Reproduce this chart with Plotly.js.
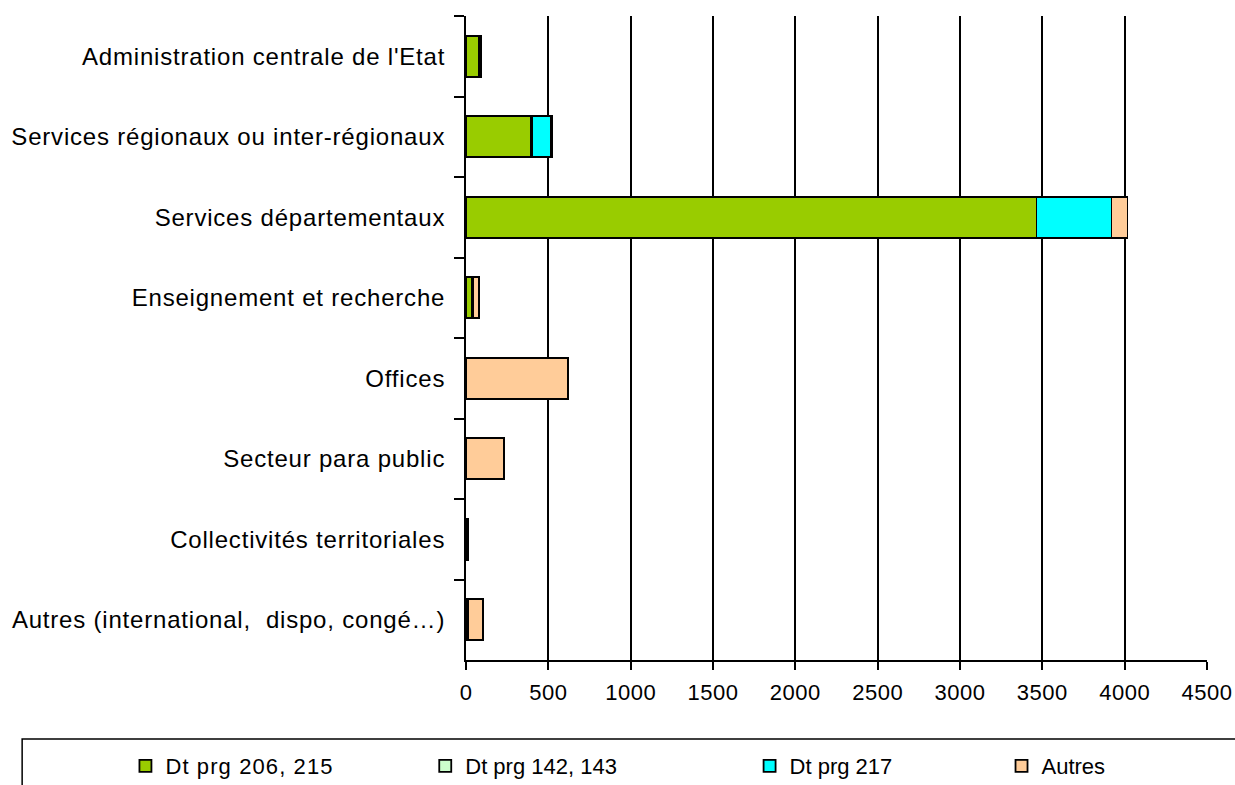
<!DOCTYPE html>
<html>
<head>
<meta charset="utf-8">
<script src="https://cdn.plot.ly/plotly-3.0.1.min.js"></script>
<style>
html,body{margin:0;padding:0;background:#fff;}
#chart{width:1235px;height:785px;}
.ytick text{letter-spacing:0.8px;}
.xtick text{letter-spacing:0.5px;}
.legendtext{letter-spacing:1.1px;}
</style>
</head>
<body>
<div id="chart"></div>
<script>
const categories = ["Administration centrale de l'Etat", "Services régionaux ou inter-régionaux", "Services départementaux", "Enseignement et recherche", "Offices", "Secteur para public", "Collectivités territoriales", "Autres (international,  dispo, congé…)"];
const seriesNames = ["Dt prg 206, 215", "Dt prg 142, 143", "Dt prg 217", "Autres"];
const dt206_215 = [78, 395, 3465, 38, 0, 0, 4, 12];
const dt142_143 = [4, 4, 0, 3, 0, 0, 0, 0];
const dt217 = [8, 118, 455, 4, 0, 0, 3, 0];
const autres = [4, 6, 97, 35, 621, 233, 4, 93];
const xTicks = [0, 500, 1000, 1500, 2000, 2500, 3000, 3500, 4000, 4500];

const colors = ["#99CC00", "#CCFFCC", "#00FFFF", "#FFCC99"];
const values = [dt206_215, dt142_143, dt217, autres];
const legendIds = ["legend", "legend2", "legend3", "legend4"];

const traces = values.map((v, i) => ({
  type: "bar",
  orientation: "h",
  name: seriesNames[i],
  y: categories,
  x: v,
  marker: {color: colors[i], line: {color: "#000", width: 1.8}},
  legend: legendIds[i],
  hoverinfo: "x+name"
}));

const font = {family: "Liberation Sans, Arial, sans-serif", color: "#000"};
const legendBase = (x) => ({
  x: x, xref: "paper", xanchor: "left",
  y: -0.1646, yref: "paper", yanchor: "middle",
  orientation: "h", bgcolor: "rgba(0,0,0,0)", borderwidth: 0,
  font: Object.assign({}, font, {size: 22}),
  itemwidth: 30, tracegroupgap: 0,
  entrywidth: 240, entrywidthmode: "pixels"
});

const layout = {
  width: 1235, height: 785,
  margin: {l: 466, r: 28, t: 16, b: 125, autoexpand: false},
  paper_bgcolor: "#fff", plot_bgcolor: "#fff",
  barmode: "stack",
  bargap: 0.49,
  font: font,
  showlegend: true,
  xaxis: {
    range: [0, 4500], tickvals: xTicks, ticktext: xTicks.map(String),
    showgrid: true, gridcolor: "#000", gridwidth: 2,
    zeroline: false, showline: true, linecolor: "#000", linewidth: 2,
    ticks: "outside", ticklen: 8, tickwidth: 2, tickcolor: "#000",
    ticklabelstandoff: 4,
    tickfont: Object.assign({}, font, {size: 22}),
    automargin: false,
    fixedrange: true
  },
  yaxis: {
    type: "category", autorange: "reversed",
    showgrid: false, zeroline: false,
    showline: true, linecolor: "#000", linewidth: 2,
    ticks: "outside", ticklen: 10, tickwidth: 2, tickcolor: "#000",
    tickson: "boundaries",
    ticklabelstandoff: 14,
    tickfont: Object.assign({}, font, {size: 24}),
    automargin: false,
    fixedrange: true
  },
  legend: legendBase(-0.4596),
  legend2: legendBase(-0.055),
  legend3: legendBase(0.3827),
  legend4: legendBase(0.7227),
  shapes: [{
    type: "rect", xref: "paper", yref: "paper",
    x0: -0.599, x1: 1.06, y0: -0.1227, y1: -0.25,
    line: {color: "#000", width: 1.5}, fillcolor: "rgba(0,0,0,0)", layer: "below"
  }]
};

Plotly.newPlot("chart", traces, layout, {displayModeBar: false, staticPlot: true});
</script>
</body>
</html>
